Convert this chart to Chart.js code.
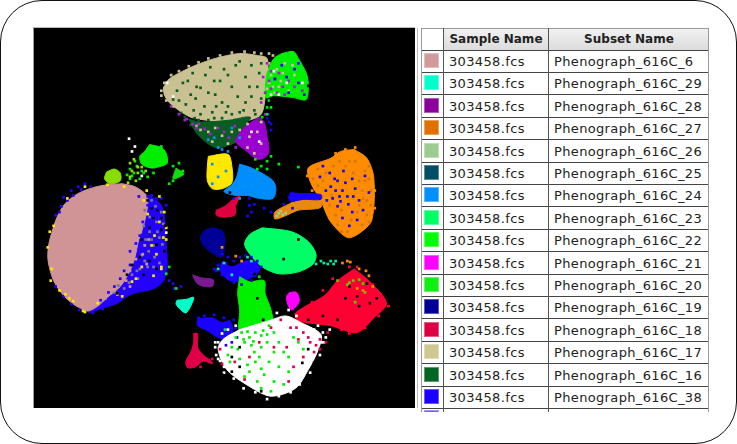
<!DOCTYPE html>
<html>
<head>
<meta charset="utf-8">
<title>Phenograph subsets</title>
<script src="https://cdn.jsdelivr.net/npm/chart.js@4/dist/chart.umd.min.js"></script>
<style>
    html, body { margin: 0; padding: 0; background: #fff; }
    #frame { position: absolute; left: 0; top: 0; width: 737px; height: 444px; box-sizing: border-box; border: 1.5px solid #111; border-radius: 42px; }
    #plot { position: absolute; left: 34px; top: 28px; width: 381px; height: 380px; }
    #plotEdge { position: absolute; left: 33px; top: 27px; width: 382px; height: 381px; border-left: 1px solid #999; border-top: 1px solid #bbb; box-sizing: border-box; }
    #sideLine { position: absolute; left: 417px; top: 28px; width: 1px; height: 380px; background: #bbb; }
    #tbl { position: absolute; left: 421px; top: 28px; width: 288px; height: 384px; overflow: hidden; font-family: "DejaVu Sans", sans-serif; color: #222; font-size: 13px; }
    .cell { position: absolute; box-sizing: border-box; white-space: nowrap; line-height: 23px; letter-spacing: 0.35px; }
    .hline { position: absolute; left: 0; width: 288px; height: 1px; background: #444; }
    .vline { position: absolute; top: 0; bottom: 0; width: 1px; background: #555; }
    .head { font-weight: bold; text-align: center; font-size: 12px; letter-spacing: 0; background: linear-gradient(#f2f2f2, #dcdcdc); height: 22px; top: 0; }
    .swatch { position: absolute; left: 3px; width: 15px; height: 15px; box-sizing: border-box; border: 1px solid rgba(255,255,255,0.35); }
</style>
</head>
<body>
<div id="frame"></div>
<div id="plotEdge"></div>
<div id="plot"><canvas id="umap" width="381" height="380"></canvas></div>
<div id="sideLine"></div>
<div id="tbl"></div>
<script>
// table contents, top to bottom
const sampleNames = ["303458.fcs", "303458.fcs", "303458.fcs", "303458.fcs", "303458.fcs", "303458.fcs", "303458.fcs", "303458.fcs", "303458.fcs", "303458.fcs", "303458.fcs", "303458.fcs", "303458.fcs", "303458.fcs", "303458.fcs", "303458.fcs"];
const subsetNames = ["Phenograph_616C_6", "Phenograph_616C_29", "Phenograph_616C_28", "Phenograph_616C_27", "Phenograph_616C_26", "Phenograph_616C_25", "Phenograph_616C_24", "Phenograph_616C_23", "Phenograph_616C_22", "Phenograph_616C_21", "Phenograph_616C_20", "Phenograph_616C_19", "Phenograph_616C_18", "Phenograph_616C_17", "Phenograph_616C_16", "Phenograph_616C_38"];
const swatchColors = ["#d39a9c", "#00ffcc", "#8a0099", "#e07000", "#9ccc8f", "#004d66", "#0090ff", "#00ff66", "#00ff00", "#ff00ff", "#11ee11", "#000099", "#dd0044", "#cfc991", "#006622", "#1a00ff"];
const cutOffSwatch = "#7060ee";

// cluster outlines
const pinkOutline = [[120,183],[105,184],[90,187],[75,193],[62,203],[54,216],[49,230],[45,245],[44,258],[46,270],[50,282],[56,292],[65,302],[75,309],[85,313],[95,308],[105,299],[118,288],[128,272],[133,258],[137,240],[142,225],[146,205],[145,195],[133,186],[120,183]];
const blueOutline = [[148,195],[160,205],[164,225],[165,245],[166,262],[165,275],[160,285],[150,291],[135,294],[125,298],[115,305],[100,310],[85,314],[85,300],[120,275],[135,225],[148,195]];
const beigeOutline = [[162,85],[168,76],[180,69],[195,62],[215,55],[240,50],[258,52],[268,55],[268,75],[266,95],[262,112],[250,118],[235,120],[220,120],[205,118],[190,115],[178,108],[168,100],[163,92],[162,85]];
const darkGreenOutline = [[188,117],[200,120],[230,118],[250,115],[245,125],[240,138],[225,145],[215,146],[205,140],[195,130],[188,117]];
const purpleOutline = [[260,115],[265,120],[268,135],[270,150],[266,156],[258,158],[245,148],[237,142],[236,138],[245,125],[260,115]];
const topGreenOutline = [[283,50],[295,48],[300,55],[308,70],[310,80],[308,97],[295,95],[275,93],[267,95],[268,70],[275,55],[283,50]];
const limeOutline = [[148,143],[160,146],[165,152],[166,162],[160,165],[150,167],[140,163],[138,155],[143,150],[148,143]];
const limeTailOutline = [[175,167],[183,173],[172,178],[175,167]];
const oliveOutline = [[104,171],[112,168],[118,172],[118,180],[108,183],[102,178],[104,171]];
const yellowOutline = [[208,155],[228,153],[232,165],[232,182],[222,188],[212,188],[207,180],[207,165],[208,155]];
const azureOutline = [[240,163],[250,166],[264,173],[274,180],[277,188],[274,198],[260,198],[248,195],[236,195],[224,191],[232,184],[237,176],[240,163]];
const crimsonOutline = [[216,210],[225,206],[233,199],[240,196],[236,205],[235,215],[222,217],[216,215],[216,210]];
const orangeOutline = [[357,148],[370,157],[377,177],[375,220],[363,233],[350,238],[333,222],[327,210],[323,200],[313,183],[310,167],[333,157],[343,150],[357,148]];
const orangeTailOutline = [[323,195],[323,207],[300,210],[286,216],[276,219],[276,212],[290,204],[305,197],[323,195]];
const blueBandOutline = [[292,192],[300,193],[323,194],[323,199],[305,199],[292,201],[290,197],[292,192]];
const springOutline = [[263,228],[293,232],[310,242],[318,255],[315,265],[300,273],[280,275],[263,268],[252,257],[245,245],[250,235],[263,228]];
const navyOutline = [[212,228],[222,231],[225,240],[224,252],[222,258],[212,254],[203,246],[200,238],[204,231],[212,228]];
const midBlueOutline = [[222,262],[232,268],[245,262],[257,263],[260,272],[250,280],[240,283],[228,281],[220,272],[222,262]];
const plumOutline = [[192,276],[200,279],[213,281],[212,288],[200,287],[195,283],[192,276]];
const tealOutline = [[176,302],[186,301],[193,299],[190,308],[185,315],[180,312],[175,306],[176,302]];
const lowBlueOutline = [[197,321],[212,320],[222,325],[230,323],[233,335],[228,343],[218,340],[205,332],[197,328],[197,321]];
const lowCrimsonOutline = [[193,336],[197,336],[197,350],[203,358],[212,365],[212,367],[203,364],[195,370],[187,371],[185,365],[190,355],[193,345],[193,336]];
const midGreenOutline = [[240,278],[250,283],[265,282],[266,295],[272,312],[274,330],[255,334],[240,334],[240,312],[238,295],[240,278]];
const magentaOutline = [[291,294],[298,294],[301,302],[298,308],[293,312],[289,306],[288,298],[291,294]];
const redOutline = [[357,270],[372,282],[390,305],[377,320],[360,335],[333,328],[300,323],[297,315],[327,297],[340,282],[357,270]];
const whiteOutline = [[240,332],[270,323],[287,318],[303,325],[323,337],[320,353],[310,373],[297,392],[272,400],[250,390],[227,373],[218,352],[223,342],[240,332]];

// loose events on top of the clusters
const blueSpecks = [[146,205],[152,200],[137,252],[135,262],[128,266],[122,272],[128,277],[118,280],[112,288],[106,294],[98,302],[60,197],[68,190],[75,186],[82,183],[52,215],[168,282],[172,285],[176,290],[180,288],[173,290],[120,296],[110,300],[128,252],[134,244],[138,236],[141,222],[146,196],[137,196],[150,195],[155,198],[160,198],[165,205],[58,206],[64,200],[70,195],[78,189],[88,186],[56,212],[60,298],[68,306],[76,312],[90,315],[100,311],[110,303],[52,288]];
const grayBlueSpecks = [[150,240],[156,232],[161,245],[147,252],[153,258],[158,264],[143,262],[135,272],[127,284],[122,290],[112,294],[142,226],[148,217],[155,222],[160,212],[138,270],[116,287],[150,200],[143,210],[152,246],[140,256],[146,268],[130,276],[158,238],[148,232],[154,206],[162,224],[144,240],[152,268],[136,280]];
const yellowSpecks = [[62,296],[70,303],[82,314],[80,313],[48,270],[47,282],[50,226],[165,240],[162,238],[150,246],[155,255],[140,268],[130,283],[115,296],[95,305],[160,270],[163,212],[158,222],[153,236],[146,214],[122,186],[105,184],[82,186],[64,198],[142,200],[120,298],[160,268],[152,277],[134,280],[56,292],[66,300],[44,248],[46,232],[145,190],[158,196],[165,228]];
const darkSpecksOnBeige = [[176,88],[187,78],[195,96],[205,72],[215,92],[224,66],[232,84],[246,74],[252,94],[204,104],[185,102],[212,110],[228,104],[240,110],[255,108],[236,62],[260,70],[200,85],[172,97],[258,84],[220,78],[180,110],[193,108],[246,100],[222,116],[208,118],[235,118],[194,116],[250,116],[260,118],[210,124],[225,122],[240,122],[200,126],[190,123],[182,80],[192,70],[210,64],[214,78],[228,72],[240,58],[252,62],[262,60],[196,84],[208,90],[222,100],[238,94],[250,84],[262,96],[178,98],[190,92],[200,112],[216,104],[232,112],[244,108],[184,115],[198,118],[214,116],[226,110],[256,112]];
const beigeSpecksOnGreen = [[200,128],[208,130],[215,126],[222,134],[232,130],[212,140],[240,128],[228,142],[196,124],[248,122],[270,60],[272,72],[278,66],[274,84],[282,78],[290,88],[296,72],[268,86],[286,60],[294,62],[250,135],[258,130],[262,142],[248,146],[255,152],[262,120],[166,88],[165,80],[172,75],[180,108],[268,66],[270,80],[276,90],[284,70],[280,84]];
const purpleSpecks = [[186,117],[192,122],[198,122],[204,127],[218,126],[224,130],[235,124],[268,60],[272,68],[276,76],[280,70],[284,84],[278,90],[270,78],[290,78],[296,84],[304,88],[262,100],[266,112],[236,146],[210,132],[229,136],[170,104],[178,112],[184,118],[196,126],[264,74],[266,90],[272,86],[286,92]];
const azureSpecks = [[208,138],[214,136],[218,146],[222,148],[228,150],[240,136],[232,126],[212,183],[218,176],[226,170],[212,163],[230,190],[245,186],[258,180],[265,192],[240,198],[252,184]];
const blueOnGreenSpecks = [[283,62],[288,74],[296,66],[300,80],[306,92],[276,76],[290,90],[300,60],[270,120],[272,122],[268,116],[272,128],[269,112],[234,198],[250,198],[250,205],[252,212],[248,216],[255,204],[265,208],[272,212]];
const midBlueSpecks = [[222,255],[228,258],[234,262],[240,258],[246,256],[252,258],[258,262],[262,268],[226,264],[218,266],[216,272],[222,276],[234,284],[242,286],[252,282],[256,277],[214,270],[246,270],[232,272],[200,322],[204,318],[214,317],[224,320],[234,322],[236,330],[238,340],[232,345],[226,348],[198,320]];
const blueOnOrangeSpecks = [[325,165],[322,176],[332,172],[340,180],[346,170],[355,178],[345,190],[335,198],[350,196],[358,188],[362,200],[340,206],[328,190],[345,218],[355,212],[368,175],[372,192],[352,226],[360,220],[318,196],[310,194],[300,196],[295,200],[285,204],[294,208],[337,178],[351,204],[342,196],[333,186],[348,182],[329,200],[343,201],[338,190],[356,196],[366,210]];
const darkOrangeSpecks = [[372,165],[368,180],[374,205],[370,215],[365,225],[358,160],[348,165],[336,165],[325,180],[332,205],[340,225],[350,232],[362,205],[356,172],[344,210],[365,190],[374,190],[320,185],[328,172],[368,170],[372,178],[366,198],[370,200],[362,180],[360,212],[354,220],[344,232],[338,215],[352,160],[342,160],[320,168],[315,178],[334,195],[372,222]];
const pinkOnBlueSpecks = [[134,260],[128,272],[141,255],[147,240],[139,232],[143,246],[124,282],[112,292],[103,300],[128,288],[145,265]];
const greenSpecks = [[160,145],[172,165],[178,162],[182,170],[152,172],[140,170],[132,172],[128,178],[133,160],[140,157],[146,176],[128,168],[172,180],[168,183],[263,115],[268,105],[270,98],[268,168],[268,160],[262,165],[256,158],[272,155],[280,163],[300,166],[258,168],[258,320],[250,340],[262,338],[275,335],[245,345],[236,340],[268,345],[262,350],[280,345],[232,350],[255,355],[290,360],[240,362],[270,365],[250,375],[258,385],[275,385],[245,380],[305,352],[290,375],[262,372],[230,365],[295,340],[256,365],[248,368],[285,388],[225,332],[165,275],[168,268],[175,290],[260,278],[270,328],[242,335],[248,334],[256,335],[264,333],[268,337],[244,342],[254,344],[275,355],[285,355],[300,345],[260,360],[265,378],[280,370],[238,352],[228,358],[252,348],[272,395],[262,392],[135,165],[130,175],[138,178],[125,174],[142,172],[268,112],[272,105]];
const oliveSpecks = [[128,162],[132,158],[136,166],[130,170],[136,172],[128,176],[134,180],[126,182],[140,166],[144,170]];
const lightGreenSpecks = [[280,213],[284,215],[282,211],[287,213],[278,216]];
const whiteSpecks = [[240,340],[215,345],[222,336],[236,328],[228,332],[278,315],[290,312],[298,318],[308,330],[316,332],[325,335],[332,332],[320,328],[165,233],[140,175],[133,145],[127,137],[130,150],[166,80],[172,94],[252,130],[260,140],[275,68],[288,80],[304,80],[272,92],[280,92],[215,350],[216,358],[220,364],[224,370],[328,340],[324,345]];
const redSpecks = [[298,330],[305,335],[312,345],[322,342],[330,335],[318,348],[305,360],[288,350],[275,350],[260,345],[235,365],[245,383],[250,360],[222,367],[200,370],[212,362],[220,352],[272,330],[290,385],[295,370],[310,340],[316,355],[328,345],[322,352],[300,342],[292,330],[282,322]];
const blackOnRedSpecks = [[348,300],[360,298],[362,308],[352,288],[373,305],[325,318],[340,322],[310,322],[370,285],[264,322],[258,300],[255,275],[300,240],[285,260],[240,350],[232,375],[240,370],[232,360],[262,395],[310,352],[304,366],[146,200],[150,208],[156,210],[162,202],[152,218],[160,230],[148,228],[140,240],[155,245],[163,252],[148,262],[138,258],[130,266],[125,276],[155,270],[142,276],[115,295],[160,218],[164,226],[310,83],[272,98],[275,108],[225,150],[230,192],[240,150],[264,400],[222,378],[304,388],[316,366],[380,300]];
const tealSpecks = [[323,262],[326,264],[330,265],[333,262],[336,265],[338,262],[218,270],[224,264],[232,276],[248,258],[252,262],[318,265]];
const orangeDots = [[345,264],[350,262],[353,263],[362,270],[369,272],[372,277],[376,288],[360,290],[366,292],[242,262],[222,248],[236,257],[358,146],[348,148],[338,152],[378,190],[378,208],[309,175],[314,190]];
const limeOnRedSpecks = [[340,282],[350,286],[356,282],[362,281],[366,285],[368,294],[352,284],[358,304]];
const beigeEdgeSpecks = [[160,88],[163,80],[170,72],[178,68],[188,63],[198,59],[208,55],[220,52],[232,49],[245,48],[255,49],[262,50],[165,98],[172,104],[160,93],[274,52],[270,50]];
const whiteEdgeSpecks = [[218,362],[224,376],[234,382],[244,392],[256,396],[268,403],[280,400],[292,396],[302,388],[312,376],[322,358],[326,345],[218,345]];
const redEdgeSpecks = [[352,268],[360,268],[376,286],[384,296],[392,308],[382,318],[368,330],[352,336],[344,332],[335,280],[325,292],[314,304],[304,312]];

// [outline, colour] in painting order
const shapes = [
    [blueOutline, "#2400ff"], [pinkOutline, "#d09497"], [beigeOutline, "#c9c191"], [darkGreenOutline, "#0a5c22"], [purpleOutline, "#9a00d0"],
    [topGreenOutline, "#00f000"], [limeOutline, "#00ee00"], [limeTailOutline, "#10dd10"], [oliveOutline, "#88dd00"], [yellowOutline, "#ffe800"],
    [azureOutline, "#008eff"], [crimsonOutline, "#e00040"], [orangeOutline, "#ff8c00"], [orangeTailOutline, "#e98a10"], [blueBandOutline, "#1a00ff"],
    [springOutline, "#00ff66"], [navyOutline, "#000099"], [midBlueOutline, "#1a00ff"], [plumOutline, "#7a1a90"], [tealOutline, "#00ffc8"],
    [lowBlueOutline, "#1a00ff"], [lowCrimsonOutline, "#e00048"], [midGreenOutline, "#00f000"], [magentaOutline, "#ff00ff"], [redOutline, "#ff0033"], [whiteOutline, "#ffffff"]
];
const specks = [
    [blueSpecks, "#2400ff"], [grayBlueSpecks, "#777788"], [pinkOnBlueSpecks, "#d09497"], [yellowSpecks, "#ffe800"], [beigeEdgeSpecks, "#c9c191"], [darkSpecksOnBeige, "#0a5c22"],
    [beigeSpecksOnGreen, "#c9c191"], [purpleSpecks, "#a020d0"], [azureSpecks, "#1090ee"], [midBlueSpecks, "#1a00ff"], [blueOnGreenSpecks, "#1a00ff"], [darkOrangeSpecks, "#d47808"],
    [blueOnOrangeSpecks, "#1a00ff"], [whiteEdgeSpecks, "#ffffff"], [redEdgeSpecks, "#ff0033"], [greenSpecks, "#00ee00"], [oliveSpecks, "#99dd00"], [lightGreenSpecks, "#9ccc8f"], [whiteSpecks, "#ffffff"], [redSpecks, "#e00048"], [blackOnRedSpecks, "#000000"],
    [tealSpecks, "#00ee99"], [orangeDots, "#ff8c00"], [limeOnRedSpecks, "#55cc00"]
];

// Build the table on the right.
function buildTable() {
    const tbl = document.getElementById("tbl");
    const pitch = 22.4;
    let html = '<div class="cell head" style="left:23px;width:104px">Sample Name</div>'
        + '<div class="cell head" style="left:128px;width:160px">Subset Name</div>';
    subsetNames.forEach(function (name, i) {
        const top = 22 + i * pitch;
        html += '<div class="swatch" style="top:' + (top + 3) + 'px;background:' + swatchColors[i] + '"></div>';
        html += '<div class="cell" style="left:28px;top:' + top + 'px">' + sampleNames[i] + '</div>';
        html += '<div class="cell" style="left:133px;top:' + top + 'px">' + name + '</div>';
        html += '<div class="hline" style="top:' + (top + pitch - 0.4) + 'px"></div>';
    });
    html += '<div class="swatch" style="top:382px;background:' + cutOffSwatch + '"></div>';
    html += '<div class="hline" style="top:0;background:#999"></div><div class="hline" style="top:22px"></div>';
    html += '<div class="vline" style="left:0;background:#999"></div><div class="vline" style="left:22px"></div><div class="vline" style="left:127px"></div><div class="vline" style="left:287px;background:#999"></div>';
    tbl.innerHTML = html;
}

// Turn the canvas into the cluster map.
function clusterMap(canvas) {
    let ctx = canvas.getContext("2d");
    let datasets = [];
    shapes.forEach(function (s) {
        datasets.push({ data: s[0], showLine: true, fill: "shape", backgroundColor: s[1], borderColor: s[1], borderWidth: 1, pointRadius: 0, tension: 0.3 });
    });
    specks.forEach(function (s) {
        datasets.push({ data: s[0], showLine: false, backgroundColor: s[1], borderWidth: 0, pointStyle: "rect", pointRadius: 1.9 });
    });
    datasets.forEach(function (d, i) { d.order = datasets.length - i; });

    return new Chart(ctx, {
        type: "scatter",
        data: { datasets: datasets },
        options: {
            responsive: false,
            animation: false,
            layout: { padding: 0 },
            events: [],
            scales: {
                x: { type: "linear", min: 34, max: 415, display: false },
                y: { type: "linear", min: 28, max: 408, reverse: true, display: false }
            },
            plugins: { legend: { display: false }, tooltip: { enabled: false } }
        },
        plugins: [{
            id: "blackBack",
            beforeDraw: function (chart) {
                chart.ctx.fillStyle = "#000";
                chart.ctx.fillRect(0, 0, chart.width, chart.height);
            }
        }]
    });
}

buildTable();
clusterMap(document.getElementById("umap"));
</script>
</body>
</html>
